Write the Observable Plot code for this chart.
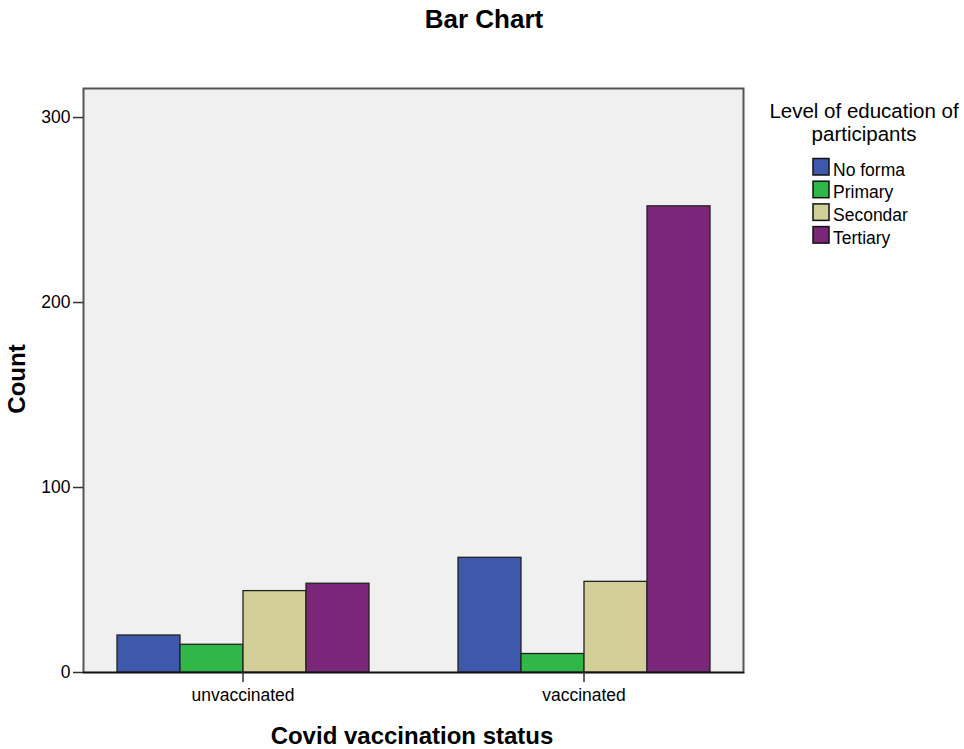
<!DOCTYPE html>
<html><head><meta charset="utf-8">
<script src="https://cdn.jsdelivr.net/npm/d3@7"></script>
<script src="https://cdn.jsdelivr.net/npm/@observablehq/plot@0.6"></script>
<style>
html,body{margin:0;padding:0;background:#fff;overflow:hidden;}
#wrap{position:relative;width:964px;height:749px;}
#wrap > svg{position:absolute;left:0;top:0;}
</style></head><body><div id="wrap"></div>
<script>
const statuses = ["unvaccinated", "vaccinated"];
const levels = ["No forma", "Primary", "Secondar", "Tertiary"];
const colors = ["#3e58ac", "#2fb848", "#d3cf98", "#7b2779"];
const unvaccinatedCounts = [20, 15, 44, 48];
const vaccinatedCounts = [62, 10, 49, 252];
const yTicks = [0, 100, 200, 300];
const titleText = "Bar Chart";
const xLabel = "Covid vaccination status";
const yLabel = "Count";
const legendTitle = ["Level of education of", "participants"];

const data = [];
statuses.forEach((s, si) => {
  const vals = si === 0 ? unvaccinatedCounts : vaccinatedCounts;
  levels.forEach((l, li) => data.push({status: s, level: l, count: vals[li]}));
});

const font = "'Liberation Sans', Arial, sans-serif";

const chart = Plot.plot({
  width: 964, height: 749,
  marginLeft: 82, marginRight: 221, marginTop: 88, marginBottom: 77,
  style: {fontFamily: font, background: "transparent", color: "#000"},
  fx: {domain: statuses, paddingInner: 0.065, paddingOuter: 0, label: null},
  x: {domain: levels, paddingInner: 0, paddingOuter: 0.525, axis: null},
  y: {domain: [0, 315.7], axis: null},
  color: {domain: levels, range: colors},
  marks: [
    Plot.frame({facet: "super", fill: "#f0f0f0", stroke: "#555", strokeWidth: 2}),
    Plot.barY(data, {fx: "status", x: "level", y: "count", fill: "level", stroke: "#222", strokeWidth: 1.3}),
    Plot.frame({facet: "super", anchor: "bottom", stroke: "#111", strokeWidth: 1.5}),
    Plot.axisY(yTicks, {tickSize: 10, tickPadding: 3, fontSize: 17.5, label: null, stroke: "#333", strokeWidth: 1.5}),
    Plot.axisFx({anchor: "bottom", tickSize: 10, tickPadding: 6, fontSize: 17.5, label: null, stroke: "#333", strokeWidth: 1.5})
  ]
});
document.getElementById("wrap").appendChild(chart);

// Overlay: title, axis labels, legend
const ov = d3.select("#wrap").append("svg")
  .attr("width", 964).attr("height", 749)
  .style("font-family", font);

ov.append("text").attr("x", 484).attr("y", 28).attr("text-anchor", "middle")
  .attr("font-size", 26).attr("font-weight", "bold").text(titleText);
ov.append("text").attr("x", 412).attr("y", 744).attr("text-anchor", "middle")
  .attr("font-size", 24).attr("font-weight", "bold").text(xLabel);
ov.append("text").attr("transform", "translate(25,379) rotate(-90)").attr("text-anchor", "middle")
  .attr("font-size", 24).attr("font-weight", "bold").text(yLabel);

legendTitle.forEach((t, i) => {
  ov.append("text").attr("x", 864).attr("y", 118 + i * 23).attr("text-anchor", "middle")
    .attr("font-size", 20.5).text(t);
});
levels.forEach((l, i) => {
  const top = 158.5 + i * 22.7;
  ov.append("rect").attr("x", 813).attr("y", top).attr("width", 16).attr("height", 16.5)
    .attr("fill", colors[i]).attr("stroke", "#111").attr("stroke-width", 1.5);
  ov.append("text").attr("x", 833).attr("y", top + 17).attr("font-size", 17.5).text(l);
});
</script></body></html>
